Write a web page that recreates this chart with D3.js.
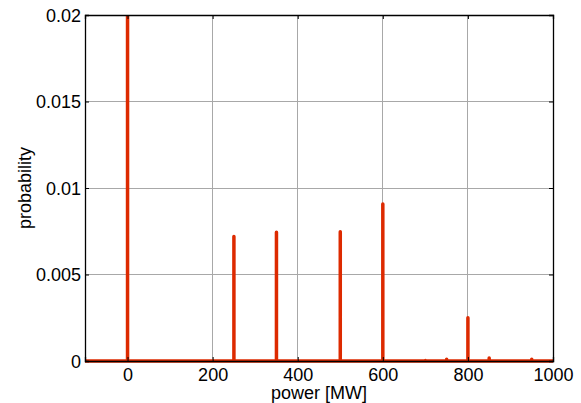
<!DOCTYPE html>
<html><head><meta charset="utf-8">
<script src="https://d3js.org/d3.v7.min.js"></script>
<style>body{margin:0;background:#fff}svg{display:block}text{font-family:"Liberation Sans",Arial,sans-serif}</style>
</head><body><svg id="c" width="581" height="403"></svg>
<script>
const spikePower = [0, 250, 350, 500, 600, 700, 750, 800, 850, 950];
const spikeProb  = [0.05, 0.00719, 0.00744, 0.00747, 0.00908, 0.00003, 0.0001, 0.0025, 0.00018, 0.0001];
const xTicks = [0, 200, 400, 600, 800, 1000];
const yTicks = [0, 0.005, 0.01, 0.015, 0.02];
const xDomain = [-100, 1000];
const yDomain = [0, 0.02];

const svg = d3.select("#c");
const L = 85, R = 553, T = 15, B = 361;
const x = d3.scaleLinear().domain(xDomain).range([L, R]);
const y = d3.scaleLinear().domain(yDomain).range([B, T]);

// grid
const grid = svg.append("g");
grid.selectAll("line.vx").data(xTicks.filter(d => d > 0 && d < 1000)).join("line")
  .attr("x1", d => x(d)).attr("x2", d => x(d)).attr("y1", T).attr("y2", B)
  .attr("stroke", "#a8a8a8").attr("stroke-width", 1).attr("shape-rendering", "crispEdges");
grid.selectAll("line.hy").data(yTicks.filter(d => d > 0 && d < 0.02)).join("line")
  .attr("y1", d => y(d)).attr("y2", d => y(d)).attr("x1", L).attr("x2", R)
  .attr("stroke", "#a8a8a8").attr("stroke-width", 1).attr("shape-rendering", "crispEdges");

// data line
const pts = [[xDomain[0], 0]];
spikePower.forEach((p, i) => { pts.push([p, 0], [p, spikeProb[i]], [p, 0]); });
pts.push([xDomain[1], 0]);
svg.append("clipPath").attr("id", "clip").append("rect")
  .attr("x", L).attr("y", T).attr("width", R - L).attr("height", B - T + 3);
svg.append("path").attr("clip-path", "url(#clip)")
  .attr("d", d3.line().x(d => x(d[0])).y(d => y(d[1]))(pts))
  .attr("fill", "none").attr("stroke", "#dd2a00").attr("stroke-width", 3.5)
  .attr("stroke-linejoin", "round");

// axes
const fs = "18px";
const xa = svg.append("g").attr("transform", `translate(0,${B})`)
  .call(d3.axisBottom(x).tickValues(xTicks).tickSize(-4).tickPadding(7).tickFormat(d3.format("d")));
const ya = svg.append("g").attr("transform", `translate(${L},0)`)
  .call(d3.axisLeft(y).tickValues(yTicks).tickSize(-4).tickPadding(4).tickFormat(d => d === 0 ? "0" : d3.format("")(d)));
const xt = svg.append("g").attr("transform", `translate(0,${T})`)
  .call(d3.axisTop(x).tickValues(xTicks).tickSize(-4).tickFormat(""));
const yr = svg.append("g").attr("transform", `translate(${R},0)`)
  .call(d3.axisRight(y).tickValues(yTicks).tickSize(-4).tickFormat(""));
[xa, ya, xt, yr].forEach(g => {
  g.select(".domain").attr("stroke", "#000").attr("stroke-width", 1.3);
  g.selectAll(".tick line").attr("stroke", "#000");
  g.selectAll("text").attr("font-size", fs).attr("font-family", "Liberation Sans, Arial, sans-serif").attr("fill", "#000");
});
ya.selectAll("text").attr("dy", "0.36em");

svg.append("text").attr("x", (L + R) / 2).attr("y", 399).attr("text-anchor", "middle")
  .attr("font-size", "18px").text("power [MW]");
svg.append("text").attr("transform", `translate(31,${(T + B) / 2}) rotate(-90)`).attr("text-anchor", "middle")
  .attr("font-size", "18px").text("probability");
</script></body></html>
